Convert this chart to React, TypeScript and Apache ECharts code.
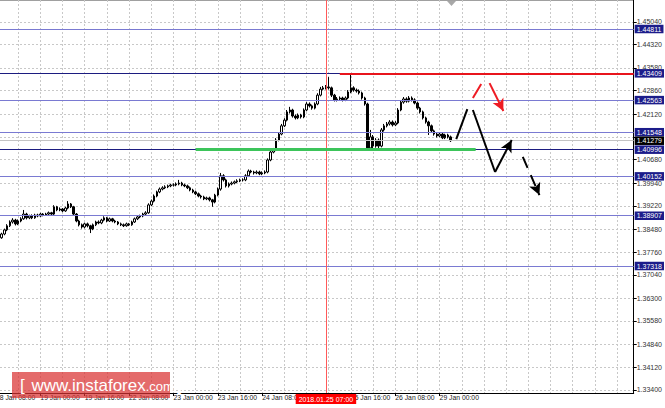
import React, { useEffect, useRef } from 'react';
import * as echarts from 'echarts';

const TIME_LABELS = ['18 Jan 08:00', '19 Jan 00:00', '19 Jan 16:00', '22 Jan 08:00', '23 Jan 00:00', '23 Jan 16:00', '24 Jan 08:00', '', '25 Jan 16:00', '26 Jan 08:00', '29 Jan 00:00'];
const BARS_PER_LABEL = 16;
const BARS_PER_GRID = 8;
const TOTAL_SLOTS = 231;

const FIRST_OPEN = 1.3821;
const CLOSE = [1.3827,1.3821,1.3833,1.3846,1.3859,1.3871,1.3877,1.3865,1.3874,1.3881,
 1.3896,1.3884,1.3890,1.3884,1.3893,1.3890,1.3896,1.3893,1.3896,1.3900,
 1.3896,1.3919,1.3909,1.3912,1.3906,1.3915,1.3928,1.3919,1.3896,1.3874,
 1.3862,1.3855,1.3865,1.3859,1.3849,1.3862,1.3871,1.3868,1.3877,1.3884,
 1.3874,1.3881,1.3874,1.3871,1.3865,1.3862,1.3859,1.3865,1.3862,1.3871,
 1.3881,1.3887,1.3890,1.3896,1.3900,1.3925,1.3937,1.3953,1.3966,1.3975,
 1.3979,1.3982,1.3985,1.3988,1.3988,1.3991,1.3994,1.3988,1.3985,1.3979,
 1.3972,1.3966,1.3960,1.3953,1.3950,1.3944,1.3947,1.3941,1.3934,1.3956,
 1.3975,1.4017,1.4004,1.3985,1.3991,1.3994,1.3998,1.4001,1.4004,1.4004,
 1.4017,1.4032,1.4029,1.4026,1.4029,1.4023,1.4026,1.4029,1.4067,1.4092,
 1.4099,1.4130,1.4149,1.4175,1.4193,1.4219,1.4225,1.4206,1.4200,1.4209,
 1.4203,1.4225,1.4244,1.4238,1.4231,1.4244,1.4272,1.4291,1.4295,1.4298,
 1.4295,1.4272,1.4257,1.4260,1.4263,1.4257,1.4263,1.4282,1.4295,1.4288,
 1.4285,1.4279,1.4263,1.4244,1.4105,1.4140,1.4111,1.4130,1.4111,1.4162,
 1.4175,1.4181,1.4187,1.4178,1.4184,1.4225,1.4250,1.4260,1.4253,1.4263,
 1.4257,1.4247,1.4231,1.4219,1.4200,1.4187,1.4175,1.4159,1.4149,1.4143,
 1.4149,1.4137,1.4146,1.4140,1.41279];
const HIGH = [1.3831,1.3832,1.3837,1.3850,1.3864,1.3876,1.3883,1.3881,1.3879,1.3886,
 1.3909,1.3900,1.3894,1.3895,1.3897,1.3897,1.3900,1.3899,1.3900,1.3904,
 1.3903,1.3924,1.3922,1.3917,1.3915,1.3919,1.3937,1.3931,1.3922,1.3899,
 1.3878,1.3866,1.3869,1.3869,1.3862,1.3866,1.3875,1.3876,1.3881,1.3889,
 1.3887,1.3885,1.3884,1.3878,1.3874,1.3869,1.3866,1.3869,1.3868,1.3875,
 1.3885,1.3891,1.3894,1.3900,1.3905,1.3930,1.3942,1.3958,1.3970,1.3980,
 1.3984,1.3987,1.3989,1.3992,1.3993,1.3996,1.4004,1.3998,1.3992,1.3989,
 1.3983,1.3976,1.3970,1.3964,1.3957,1.3954,1.3951,1.3951,1.3944,1.3960,
 1.3980,1.4026,1.4022,1.4008,1.3996,1.3999,1.4002,1.4006,1.4008,1.4009,
 1.4022,1.4037,1.4036,1.4033,1.4034,1.4033,1.4031,1.4034,1.4072,1.4097,
 1.4105,1.4136,1.4155,1.4181,1.4199,1.4225,1.4235,1.4229,1.4211,1.4214,
 1.4213,1.4230,1.4250,1.4249,1.4242,1.4249,1.4278,1.4298,1.4301,1.4304,
 1.4329,1.4299,1.4276,1.4266,1.4268,1.4267,1.4268,1.4288,1.4342,1.4300,
 1.4293,1.4290,1.4283,1.4267,1.4248,1.4162,1.4146,1.4136,1.4135,1.4168,
 1.4181,1.4187,1.4193,1.4192,1.4190,1.4231,1.4256,1.4266,1.4265,1.4269,
 1.4268,1.4262,1.4251,1.4235,1.4223,1.4204,1.4191,1.4179,1.4163,1.4153,
 1.4154,1.4153,1.4150,1.4150,1.4144];
const LOW = [1.3815,1.3816,1.3818,1.3829,1.3842,1.3855,1.3866,1.3860,1.3861,1.3870,
 1.3878,1.3879,1.3880,1.3880,1.3881,1.3886,1.3887,1.3889,1.3890,1.3892,
 1.3892,1.3893,1.3905,1.3905,1.3902,1.3903,1.3911,1.3915,1.3892,1.3870,
 1.3857,1.3850,1.3851,1.3854,1.3836,1.3845,1.3858,1.3864,1.3864,1.3873,
 1.3870,1.3871,1.3870,1.3867,1.3861,1.3858,1.3855,1.3856,1.3858,1.3859,
 1.3868,1.3877,1.3883,1.3886,1.3892,1.3897,1.3921,1.3933,1.3949,1.3962,
 1.3971,1.3975,1.3978,1.3981,1.3983,1.3984,1.3987,1.3984,1.3981,1.3975,
 1.3968,1.3962,1.3956,1.3949,1.3945,1.3940,1.3940,1.3936,1.3919,1.3930,
 1.3952,1.3970,1.3999,1.3980,1.3980,1.3987,1.3990,1.3994,1.3997,1.3999,
 1.4000,1.4013,1.4025,1.4021,1.4022,1.4019,1.4019,1.4022,1.4025,1.4063,
 1.4088,1.4095,1.4126,1.4145,1.4171,1.4189,1.4214,1.4201,1.4195,1.4196,
 1.4198,1.4199,1.4221,1.4233,1.4226,1.4227,1.4240,1.4268,1.4287,1.4290,
 1.4290,1.4266,1.4252,1.4252,1.4255,1.4252,1.4253,1.4259,1.4278,1.4283,
 1.4280,1.4274,1.4258,1.4239,1.4100,1.4100,1.4104,1.4106,1.4100,1.4107,
 1.4157,1.4170,1.4176,1.4173,1.4174,1.4180,1.4221,1.4245,1.4248,1.4249,
 1.4252,1.4243,1.4226,1.4214,1.4195,1.4182,1.4146,1.4154,1.4144,1.4138,
 1.4139,1.4133,1.4133,1.4135,1.4124];

const PRICE_TICKS = [1.45040, 1.44320, 1.43580, 1.42860, 1.42120, 1.41400, 1.40680, 1.39940, 1.39220, 1.38480, 1.37760, 1.37040, 1.36300, 1.35580, 1.34840, 1.34120, 1.33400];
const PRICE_LABELS = [1.45040, 1.44320, 1.43580, 1.42860, 1.42120, 1.40680, 1.39940, 1.39220, 1.38480, 1.37760, 1.37040, 1.36300, 1.35580, 1.34840, 1.34120, 1.33400];
const Y_MIN = 1.33303;
const Y_MAX = 1.45728;

const BLUE_LEVELS = [1.44811, 1.42563, 1.41548, 1.40152, 1.38907, 1.37318];
const NAVY_LEVELS = [1.43409, 1.40996];
const BID = 1.41279;
const CROSSHAIR_BAR = 119;
const CROSSHAIR_LABEL = '2018.01.25 07:00';
const RESISTANCE = { price: 1.43409, fromBar: 124, toBar: 230 };
const SUPPORT = { price: 1.40996, fromBar: 72, toBar: 173 };

// forecast strokes: [[bar, price], [bar, price]]
const BLACK_SOLID = [
  [[166, 1.4133], [170, 1.4228]],
  [[172, 1.4225], [180, 1.4029]],
];
const BLACK_ARROW = [[180, 1.4029], [186, 1.4130]];
const BLACK_DASHED_ARROW = [[190, 1.4077], [196, 1.3956]];
const RED_SOLID = [[172, 1.4263], [175, 1.4307]];
const RED_ARROW = [[178, 1.4310], [183, 1.4222]];

const FONT = 'Liberation Sans';
const SHIFT = 7; // chart canvas starts 7px left of the page

export default function App() {
  const ref = useRef<HTMLDivElement>(null);
  useEffect(() => {
    if (!ref.current) return;
    const chart = echarts.init(ref.current, undefined, { renderer: 'svg' });
    const categories = Array.from({ length: TOTAL_SLOTS }, (_, i) => String(i));
    const candles = CLOSE.map((c, i) => [i === 0 ? FIRST_OPEN : CLOSE[i - 1], c, LOW[i], HIGH[i]]);

    const levelLabel = (bg: string) => ({
      show: true, position: 'end', distance: 1, color: '#fff', backgroundColor: bg,
      fontSize: 7, fontFamily: FONT, padding: [0, 2, 0, 2], lineHeight: 8.5,
    });
    const seg = (pts: number[][], color: string, width: number, type: any, arrow: boolean, label?: any) => [
      { coord: pts[0], symbol: 'none', lineStyle: { color, width, type }, label: label || { show: false } },
      { coord: pts[1], symbol: arrow ? 'arrow' : 'none', symbolSize: [9, 12] },
    ];

    const mlData: any[] = [];
    BLUE_LEVELS.forEach((v) => mlData.push({ yAxis: v, lineStyle: { color: '#7a7ad2', width: 1, type: 'solid' }, label: { ...levelLabel('#1c1c8a'), formatter: v.toFixed(5) } }));
    mlData.push({ yAxis: BID, lineStyle: { color: '#c4c4c4', width: 1, type: 'solid' }, label: { ...levelLabel('#000000'), formatter: BID.toFixed(5) } });
    NAVY_LEVELS.forEach((v) => mlData.push({ yAxis: v, lineStyle: { color: '#1c1c80', width: 1, type: 'solid' }, label: { ...levelLabel('#1c1c8a'), formatter: v.toFixed(5) } }));
    mlData.push(seg([[CROSSHAIR_BAR, Y_MIN], [CROSSHAIR_BAR, Y_MAX]], '#ff5a5a', 1, 'solid', false, {
      show: true, position: 'start', distance: 1, formatter: CROSSHAIR_LABEL, color: '#fff', backgroundColor: '#ff0000',
      fontSize: 7, fontFamily: FONT, padding: [1, 3, 1, 3], lineHeight: 8,
    }));
    mlData.push(seg([[RESISTANCE.fromBar, RESISTANCE.price], [RESISTANCE.toBar, RESISTANCE.price]], '#e8141c', 2, 'solid', false));
    mlData.push(seg([[SUPPORT.fromBar, SUPPORT.price], [SUPPORT.toBar, SUPPORT.price]], '#3cc45a', 3, 'solid', false));
    BLACK_SOLID.forEach((s) => mlData.push(seg(s, '#000', 2, 'solid', false)));
    mlData.push(seg(BLACK_ARROW, '#000', 2, 'solid', true));
    mlData.push(seg(BLACK_DASHED_ARROW, '#000', 2, [12, 8], true));
    mlData.push(seg(RED_SOLID, '#ee1c24', 2, 'solid', false));
    mlData.push(seg(RED_ARROW, '#ee1c24', 2, 'solid', true));

    const showLabel = (i: number) => i % BARS_PER_LABEL === 0 && i / BARS_PER_LABEL < TIME_LABELS.length;

    chart.setOption({
      animation: false,
      backgroundColor: '#ffffff',
      grid: { left: 0, right: 31, top: 0, bottom: 15, containLabel: false },
      xAxis: {
        type: 'category',
        data: categories,
        boundaryGap: false,
        axisLine: { show: true, lineStyle: { color: '#000', width: 1 } },
        axisTick: { show: true, length: 3, lineStyle: { color: '#000' }, interval: showLabel },
        axisLabel: {
          show: true,
          interval: showLabel,
          formatter: (_: string, i: number) => TIME_LABELS[i / BARS_PER_LABEL] || '',
          align: 'left', margin: 1, fontSize: 6.8, fontFamily: FONT, color: '#222',
        },
        splitLine: { show: true, interval: (i: number) => i % BARS_PER_GRID === 0, lineStyle: { color: '#c8c8c8', type: [2, 2], width: 1 } },
      },
      yAxis: {
        type: 'value',
        position: 'right',
        min: Y_MIN,
        max: Y_MAX,
        scale: true,
        axisLine: { show: true, lineStyle: { color: '#000', width: 1 } },
        axisTick: { show: true, length: 3, lineStyle: { color: '#000' }, customValues: PRICE_TICKS },
        axisLabel: { show: true, customValues: PRICE_LABELS, formatter: (v: number) => v.toFixed(5), margin: 3, fontSize: 7, fontFamily: FONT, color: '#333' },
        splitLine: { show: true, lineStyle: { color: '#c8c8c8', type: [2, 2], width: 1 } },
      },
      series: [
        {
          type: 'candlestick',
          data: candles,
          barWidth: 2,
          itemStyle: { color: '#ffffff', color0: '#000000', borderColor: '#000000', borderColor0: '#000000', borderWidth: 1 },
          markLine: {
            silent: true,
            animation: false,
            symbol: ['none', 'none'],
            precision: 5,
            data: mlData,
          },
        },
      ],
      graphic: [
        { type: 'line', shape: { x1: SHIFT, y1: 0.5, x2: 634 + SHIFT, y2: 0.5 }, style: { stroke: '#a0a0a0', lineWidth: 1 } },
        { type: 'polygon', shape: { points: [[447 + SHIFT, 1], [456 + SHIFT, 1], [451.5 + SHIFT, 6]] }, style: { fill: '#a8a8a8' } },
        { type: 'rect', shape: { x: 12 + SHIFT, y: 372, width: 158, height: 26 }, style: { fill: 'rgba(218, 50, 50, 0.72)' }, z: 100 },
        {
          type: 'text', x: 20 + SHIFT, y: 385, z: 101,
          style: {
            text: '{a|[}  {b|www.instaforex}{c|.com} {a|]}',
            verticalAlign: 'middle',
            rich: {
              a: { fontSize: 17, fill: '#ffffff', fontFamily: FONT },
              b: { fontSize: 17, fill: '#ffffff', fontFamily: FONT },
              c: { fontSize: 13, fill: '#ffffff', fontFamily: FONT, padding: [3, 0, 0, 0] },
            },
          },
        },
      ],
    });
    return () => chart.dispose();
  }, []);
  return (
    <div style={{ position: 'absolute', left: 0, top: 0, width: 665, height: 408, overflow: 'hidden', background: '#fff' }}>
      <div ref={ref} style={{ width: 665 + SHIFT, height: 408, position: 'absolute', left: -SHIFT, top: 0 }} />
    </div>
  );
}
